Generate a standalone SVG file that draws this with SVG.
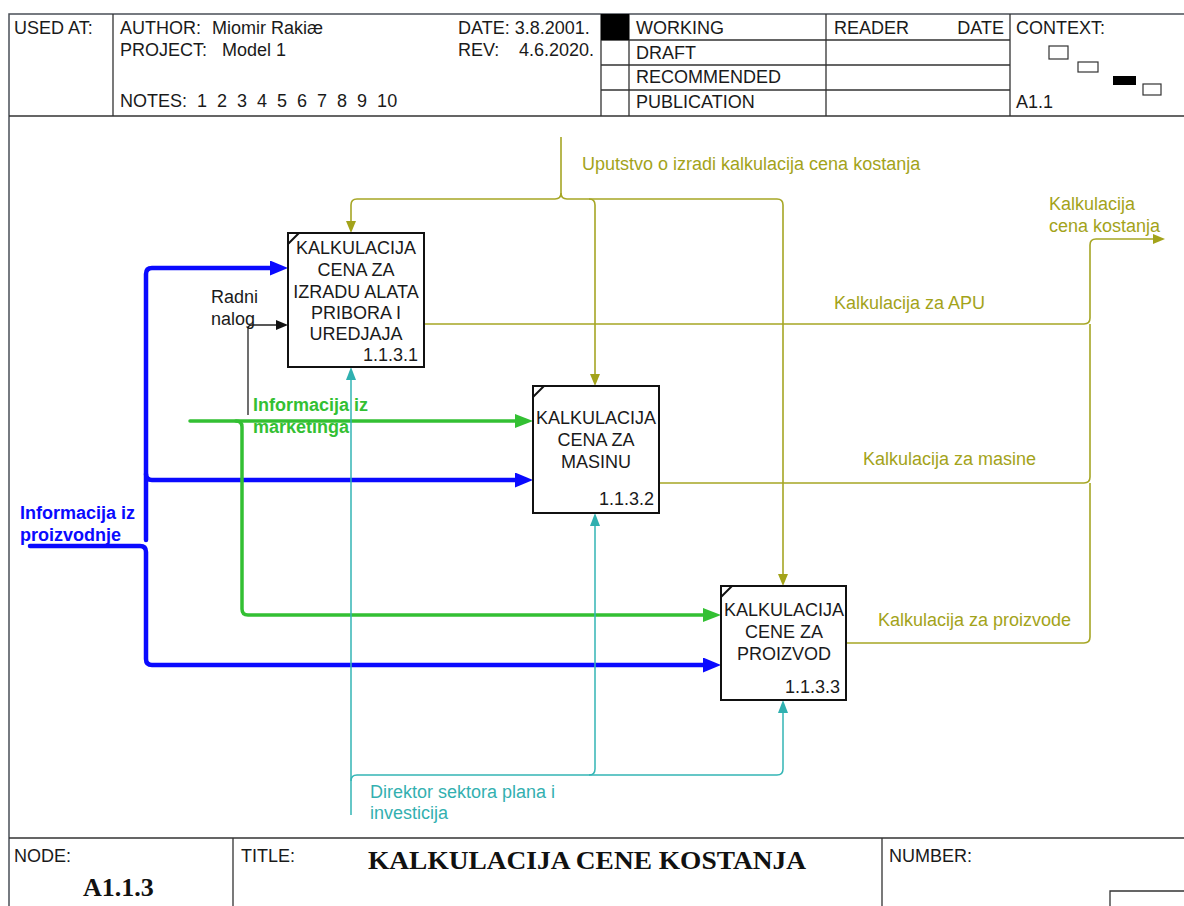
<svg xmlns="http://www.w3.org/2000/svg" width="1184" height="906" viewBox="0 0 1184 906">
  <style>
    .t { font-family: "Liberation Sans", Arial, sans-serif; font-size: 18px; fill: #1a1a1a; }
    .pre { white-space: pre; }
    .ser { font-family: "Liberation Serif", "Times New Roman", serif; font-weight: bold; fill: #111; }
    .frame { fill: none; stroke: #4a4f57; stroke-width: 1.5; }
    .grid { fill: none; stroke: #333; stroke-width: 1.3; }
    .box { fill: #fff; stroke: #111; stroke-width: 2; }
    .tick { stroke: #111; stroke-width: 2; }
    .ntext { font-family: "Liberation Sans", Arial, sans-serif; font-size: 18px; fill: #1a1a1a; text-anchor: middle; }
    .nnum { font-family: "Liberation Sans", Arial, sans-serif; font-size: 18px; fill: #1a1a1a; text-anchor: end; }
    .olive { fill: none; stroke: #a6a625; stroke-width: 1.6; }
    .teal { fill: none; stroke: #33b5b5; stroke-width: 1.5; }
    .blue { fill: none; stroke: #0a0aff; stroke-width: 4.5; stroke-linecap: round; }
    .green { fill: none; stroke: #33c033; stroke-width: 3.5; stroke-linecap: round; }
    .black { fill: none; stroke: #222; stroke-width: 1.3; }
    .lo { font-family: "Liberation Sans", Arial, sans-serif; font-size: 18px; fill: #a3a31a; }
    .lt { font-family: "Liberation Sans", Arial, sans-serif; font-size: 18px; fill: #33b0b0; }
    .lb { font-family: "Liberation Sans", Arial, sans-serif; font-size: 18px; font-weight: bold; fill: #0a0aff; }
    .lg { font-family: "Liberation Sans", Arial, sans-serif; font-size: 18px; font-weight: bold; fill: #33c033; }
  </style>
  <defs>
    <marker id="ah-olive" viewBox="0 0 12 10" refX="0" refY="5" markerWidth="12" markerHeight="10" markerUnits="userSpaceOnUse" orient="auto">
      <path d="M0,0 L12,5 L0,10 z" fill="#a3a31a"/>
    </marker>
    <marker id="ah-teal" viewBox="0 0 13 10" refX="0" refY="5" markerWidth="13" markerHeight="10" markerUnits="userSpaceOnUse" orient="auto">
      <path d="M0,0 L13,5 L0,10 z" fill="#2fb0b0"/>
    </marker>
    <marker id="ah-blue" viewBox="0 0 18 15" refX="0" refY="7.5" markerWidth="18" markerHeight="15" markerUnits="userSpaceOnUse" orient="auto">
      <path d="M0,0 L18,7.5 L0,15 z" fill="#0a0aff"/>
    </marker>
    <marker id="ah-green" viewBox="0 0 18 14" refX="0" refY="7" markerWidth="18" markerHeight="14" markerUnits="userSpaceOnUse" orient="auto">
      <path d="M0,0 L18,7 L0,14 z" fill="#33c033"/>
    </marker>
    <marker id="ah-black" viewBox="0 0 12 10" refX="0" refY="5" markerWidth="12" markerHeight="10" markerUnits="userSpaceOnUse" orient="auto">
      <path d="M0,0 L12,5 L0,10 z" fill="#111"/>
    </marker>
  </defs>

  <rect width="1184" height="906" fill="#fff"/>

  <!-- drawing frame -->
  <g id="frame">
    <path class="frame" d="M9,906 V14 H1184"/>
    <path class="grid" d="M9,116 H1184 M113,14 V116 M601,14 V116 M629,14 V116 M826,14 V116 M1010,14 V116"/>
    <path class="grid" d="M601,40 H1010 M601,65 H1010 M601,90 H1010"/>
    <rect x="601" y="14" width="28" height="26" fill="#000"/>
    <path class="grid" d="M9,838 H1184 M233,838 V906 M882,838 V906 M1110,906 V891 H1184"/>
  </g>

  <!-- header block -->
  <g id="header">
    <text class="t" x="14" y="34">USED AT:</text>
    <text class="t" x="120" y="34">AUTHOR:</text>
    <text class="t" x="212" y="34">Miomir Rakiæ</text>
    <text class="t" x="120" y="56">PROJECT:</text>
    <text class="t" x="222" y="56">Model 1</text>
    <text class="t pre" x="120" y="107">NOTES:  1  2  3  4  5  6  7  8  9  10</text>
    <text class="t" x="458" y="34">DATE: 3.8.2001.</text>
    <text class="t" x="458" y="56">REV:</text>
    <text class="t" x="519" y="56">4.6.2020.</text>
    <text class="t" x="636" y="34">WORKING</text>
    <text class="t" x="636" y="59">DRAFT</text>
    <text class="t" x="636" y="83">RECOMMENDED</text>
    <text class="t" x="636" y="108">PUBLICATION</text>
    <text class="t" x="834" y="34">READER</text>
    <text class="t" x="1004" y="34" text-anchor="end">DATE</text>
    <text class="t" x="1016" y="34">CONTEXT:</text>
    <text class="t" x="1016" y="108">A1.1</text>
    <rect x="1049" y="46" width="19" height="13" fill="#fff" stroke="#333" stroke-width="1.2"/>
    <rect x="1078" y="62" width="20" height="10" fill="#fff" stroke="#333" stroke-width="1.2"/>
    <rect x="1113" y="76" width="23" height="9" fill="#000"/>
    <rect x="1143" y="84" width="18" height="11" fill="#fff" stroke="#333" stroke-width="1.2"/>
  </g>

  <!-- footer block -->
  <g id="footer">
    <text class="t" x="14" y="862">NODE:</text>
    <text class="ser" x="83" y="896" font-size="26">A1.1.3</text>
    <text class="t" x="241" y="862">TITLE:</text>
    <text class="ser" x="368" y="869" font-size="26" textLength="438" lengthAdjust="spacingAndGlyphs">KALKULACIJA CENE KOSTANJA</text>
    <text class="t" x="889" y="862">NUMBER:</text>
  </g>

  <!-- connectors -->
  <g id="connectors">
    <!-- control: Uputstvo o izradi kalkulacija cena kostanja -->
    <path class="olive" d="M561,137 V193 Q561,199 555,199 H357 Q351,199 351,205 V221" marker-end="url(#ah-olive)"/>
    <path class="olive" d="M561,193 Q561,199 567,199 H589 Q595,199 595,205 V374" marker-end="url(#ah-olive)"/>
    <path class="olive" d="M589,199 H777 Q783,199 783,205 V574" marker-end="url(#ah-olive)"/>
    <text class="lo" x="582" y="170">Uputstvo o izradi kalkulacija cena kostanja</text>

    <!-- outputs joining into Kalkulacija cena kostanja -->
    <path class="olive" d="M424,324 H1084 Q1090,324 1090,318 V245 Q1090,239 1096,239 H1153" marker-end="url(#ah-olive)"/>
    <path class="olive" d="M659,483 H1084 Q1090,483 1090,477 V324"/>
    <path class="olive" d="M846,643 H1084 Q1090,643 1090,637 V483"/>
    <text class="lo" x="1049" y="210">Kalkulacija</text>
    <text class="lo" x="1049" y="232">cena kostanja</text>
    <text class="lo" x="834" y="309">Kalkulacija za APU</text>
    <text class="lo" x="863" y="465">Kalkulacija za masine</text>
    <text class="lo" x="878" y="626">Kalkulacija za proizvode</text>

    <!-- input: Informacija iz proizvodnje -->
    <path class="blue" d="M146,540 V274 Q146,268 152,268 H270" marker-end="url(#ah-blue)"/>
    <path class="blue" d="M146,474 Q146,480 152,480 H515" marker-end="url(#ah-blue)"/>
    <path class="blue" d="M30,546 H140 Q146,546 146,552 V659 Q146,665 152,665 H703" marker-end="url(#ah-blue)"/>
    <text class="lb" x="20" y="519">Informacija iz</text>
    <text class="lb" x="20" y="541">proizvodnje</text>

    <!-- input: Informacija iz marketinga -->
    <path class="green" d="M190,421 H515" marker-end="url(#ah-green)"/>
    <path class="green" d="M236,421 Q242,421 242,427 V609 Q242,615 248,615 H703" marker-end="url(#ah-green)"/>
    <text class="lg" x="253" y="411">Informacija iz</text>
    <text class="lg" x="253" y="433">marketinga</text>

    <!-- input: Radni nalog -->
    <path class="black" d="M248,415 V329 Q248,325 252,325 H276" marker-end="url(#ah-black)"/>
    <text class="t" x="211" y="303">Radni</text>
    <text class="t" x="211" y="325">nalog</text>

    <!-- mechanism: Direktor sektora plana i investicija -->
    <path class="teal" d="M351,815 V380" marker-end="url(#ah-teal)"/>
    <path class="teal" d="M351,781 Q351,775 357,775 H589 Q595,775 595,769 V526" marker-end="url(#ah-teal)"/>
    <path class="teal" d="M589,775 H777 Q783,775 783,769 V713" marker-end="url(#ah-teal)"/>
    <text class="lt" x="370" y="798">Direktor sektora plana i</text>
    <text class="lt" x="370" y="819">investicija</text>
  </g>

  <!-- activity 1.1.3.1 -->
  <g id="node-1131">
    <rect class="box" x="288" y="233" width="136" height="134"/>
    <line class="tick" x1="288" y1="244" x2="299" y2="233"/>
    <text class="ntext" x="356" y="254">KALKULACIJA</text>
    <text class="ntext" x="356" y="276">CENA ZA</text>
    <text class="ntext" x="356" y="298">IZRADU ALATA</text>
    <text class="ntext" x="356" y="319">PRIBORA I</text>
    <text class="ntext" x="356" y="340">UREDJAJA</text>
    <text class="nnum" x="418" y="361">1.1.3.1</text>
  </g>

  <!-- activity 1.1.3.2 -->
  <g id="node-1132">
    <rect class="box" x="533" y="386" width="126" height="127"/>
    <line class="tick" x1="533" y1="397" x2="544" y2="386"/>
    <text class="ntext" x="596" y="424">KALKULACIJA</text>
    <text class="ntext" x="596" y="446">CENA ZA</text>
    <text class="ntext" x="596" y="468">MASINU</text>
    <text class="nnum" x="654" y="505">1.1.3.2</text>
  </g>

  <!-- activity 1.1.3.3 -->
  <g id="node-1133">
    <rect class="box" x="721" y="586" width="125" height="114"/>
    <line class="tick" x1="721" y1="597" x2="732" y2="586"/>
    <text class="ntext" x="784" y="616">KALKULACIJA</text>
    <text class="ntext" x="784" y="638">CENE ZA</text>
    <text class="ntext" x="784" y="660">PROIZVOD</text>
    <text class="nnum" x="840" y="693">1.1.3.3</text>
  </g>
</svg>
